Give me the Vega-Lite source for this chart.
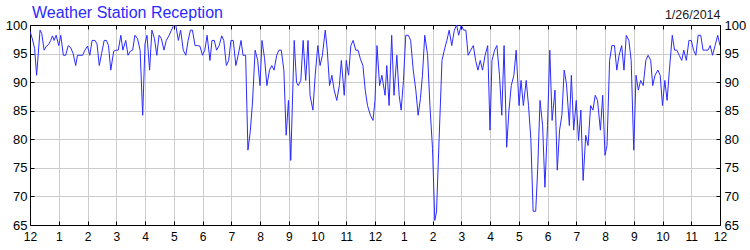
{
  "$schema": "https://vega.github.io/schema/vega-lite/v6.json",
  "width": 690,
  "height": 200,
  "autosize": "none",
  "padding": {"left": 30, "top": 25, "right": 30, "bottom": 25},
  "background": "white",
  "config": {"view": {"stroke": "black", "strokeWidth": 1}, "font": "Liberation Sans"},
  "title": {"text": "Weather Station Reception", "anchor": "start", "frame": "group", "color": "#2b2bff", "fontSize": 16, "fontWeight": "normal", "font": "Liberation Sans", "offset": -12, "dx": 2},
  "data": {"values": [
    {"h":0.00,"v":98.9},{"h":0.08,"v":97.6},{"h":0.16,"v":95.9},{"h":0.23,"v":91.2},{"h":0.35,"v":99.1},{"h":0.41,"v":98.5},{"h":0.49,"v":95.6},{"h":0.57,"v":96.3},{"h":0.65,"v":96.6},{"h":0.72,"v":97.3},{"h":0.78,"v":98.1},{"h":0.84,"v":97.3},{"h":0.91,"v":98.2},{"h":1.00,"v":96.4},{"h":1.07,"v":98.2},{"h":1.16,"v":94.7},{"h":1.24,"v":94.7},{"h":1.33,"v":96.4},{"h":1.42,"v":96.0},{"h":1.50,"v":95.0},{"h":1.59,"v":92.9},{"h":1.65,"v":94.7},{"h":1.74,"v":94.7},{"h":1.83,"v":94.7},{"h":1.91,"v":95.6},{"h":2.00,"v":96.3},{"h":2.08,"v":94.7},{"h":2.16,"v":97.3},{"h":2.26,"v":97.3},{"h":2.33,"v":96.7},{"h":2.41,"v":92.9},{"h":2.49,"v":95.0},{"h":2.58,"v":97.3},{"h":2.66,"v":97.3},{"h":2.73,"v":96.4},{"h":2.81,"v":92.1},{"h":2.91,"v":95.4},{"h":2.99,"v":95.6},{"h":3.07,"v":95.6},{"h":3.16,"v":98.2},{"h":3.23,"v":95.6},{"h":3.33,"v":97.3},{"h":3.41,"v":94.7},{"h":3.49,"v":95.4},{"h":3.57,"v":95.6},{"h":3.65,"v":98.2},{"h":3.74,"v":97.6},{"h":3.83,"v":95.6},{"h":3.92,"v":84.2},
    {"h":4.00,"v":96.7},{"h":4.07,"v":98.2},{"h":4.16,"v":92.1},{"h":4.24,"v":99.1},{"h":4.33,"v":97.6},{"h":4.41,"v":94.7},{"h":4.49,"v":98.2},{"h":4.57,"v":97.6},{"h":4.66,"v":95.6},{"h":4.74,"v":97.3},{"h":4.84,"v":98.2},{"h":4.92,"v":99.1},{"h":5.00,"v":100},{"h":5.07,"v":100},{"h":5.16,"v":97.3},{"h":5.24,"v":99.1},{"h":5.33,"v":95.6},{"h":5.42,"v":94.7},{"h":5.50,"v":97.3},{"h":5.58,"v":99.1},{"h":5.65,"v":99.1},{"h":5.74,"v":96.4},{"h":5.83,"v":96.4},{"h":5.91,"v":96.3},{"h":6.00,"v":94.7},{"h":6.08,"v":95.6},{"h":6.16,"v":98.2},{"h":6.26,"v":93.8},{"h":6.33,"v":97.3},{"h":6.41,"v":97.3},{"h":6.49,"v":95.6},{"h":6.58,"v":96.4},{"h":6.67,"v":98.1},{"h":6.74,"v":97.3},{"h":6.83,"v":92.9},{"h":6.91,"v":93.8},{"h":6.99,"v":97.3},{"h":7.07,"v":97.3},{"h":7.16,"v":92.9},{"h":7.24,"v":94.7},{"h":7.34,"v":97.3},{"h":7.41,"v":94.7},{"h":7.50,"v":94.7},{"h":7.58,"v":78.1},{"h":7.66,"v":81.3},{"h":7.74,"v":86.5},{"h":7.83,"v":95.6},{"h":7.92,"v":93.8},
    {"h":8.00,"v":89.4},{"h":8.07,"v":97.3},{"h":8.16,"v":94.1},{"h":8.24,"v":89.4},{"h":8.33,"v":92.1},{"h":8.41,"v":92.9},{"h":8.49,"v":92.1},{"h":8.58,"v":94.7},{"h":8.66,"v":95.6},{"h":8.74,"v":95.6},{"h":8.83,"v":92.1},{"h":8.91,"v":80.7},{"h":8.99,"v":86.8},{"h":9.07,"v":76.3},{"h":9.19,"v":97.3},{"h":9.27,"v":90.0},{"h":9.33,"v":89.4},{"h":9.42,"v":90.3},{"h":9.50,"v":97.3},{"h":9.59,"v":90.3},{"h":9.67,"v":97.3},{"h":9.74,"v":87.7},{"h":9.84,"v":85.1},{"h":9.92,"v":91.2},{"h":10.01,"v":96.4},{"h":10.09,"v":92.9},{"h":10.17,"v":94.7},{"h":10.27,"v":99.1},{"h":10.34,"v":95.6},{"h":10.42,"v":89.4},{"h":10.50,"v":91.2},{"h":10.58,"v":88.6},{"h":10.67,"v":86.8},{"h":10.76,"v":89.4},{"h":10.83,"v":93.8},{"h":10.93,"v":87.7},{"h":11.00,"v":93.8},{"h":11.08,"v":91.2},{"h":11.16,"v":96.4},{"h":11.24,"v":97.3},{"h":11.33,"v":95.6},{"h":11.41,"v":95.6},{"h":11.49,"v":94.1},{"h":11.58,"v":92.9},{"h":11.66,"v":88.6},{"h":11.74,"v":85.9},{"h":11.84,"v":84.2},{"h":11.93,"v":83.3},
    {"h":12.00,"v":86.8},{"h":12.07,"v":96.4},{"h":12.16,"v":89.4},{"h":12.24,"v":91.2},{"h":12.35,"v":87.7},{"h":12.41,"v":92.9},{"h":12.49,"v":85.9},{"h":12.58,"v":98.2},{"h":12.66,"v":87.7},{"h":12.76,"v":94.7},{"h":12.84,"v":87.7},{"h":12.91,"v":85.1},{"h":12.99,"v":90.3},{"h":13.07,"v":98.2},{"h":13.16,"v":98.2},{"h":13.24,"v":97.3},{"h":13.33,"v":92.1},{"h":13.42,"v":88.6},{"h":13.50,"v":84.2},{"h":13.58,"v":87.1},{"h":13.65,"v":91.2},{"h":13.73,"v":98.2},{"h":13.83,"v":94.7},{"h":13.91,"v":85.9},{"h":14.00,"v":78.4},{"h":14.08,"v":65.8},{"h":14.14,"v":67.3},{"h":14.23,"v":80.1},{"h":14.33,"v":93.8},{"h":14.41,"v":95.6},{"h":14.50,"v":97.3},{"h":14.58,"v":99.1},{"h":14.67,"v":96.4},{"h":14.76,"v":99.1},{"h":14.84,"v":100},{"h":14.91,"v":98.2},{"h":15.00,"v":100},{"h":15.08,"v":99.1},{"h":15.16,"v":99.1},{"h":15.24,"v":94.7},{"h":15.33,"v":95.6},{"h":15.42,"v":96.4},{"h":15.50,"v":93.8},{"h":15.58,"v":92.1},{"h":15.66,"v":93.8},{"h":15.74,"v":92.1},{"h":15.83,"v":94.7},{"h":15.92,"v":96.4},
    {"h":16.00,"v":81.6},{"h":16.07,"v":93.8},{"h":16.16,"v":95.6},{"h":16.24,"v":96.4},{"h":16.33,"v":91.2},{"h":16.41,"v":84.2},{"h":16.49,"v":96.4},{"h":16.58,"v":78.6},{"h":16.66,"v":85.1},{"h":16.74,"v":89.4},{"h":16.83,"v":91.2},{"h":16.91,"v":95.6},{"h":17.01,"v":85.9},{"h":17.08,"v":90.3},{"h":17.16,"v":85.9},{"h":17.26,"v":90.3},{"h":17.34,"v":85.9},{"h":17.42,"v":80.1},{"h":17.50,"v":67.4},{"h":17.59,"v":67.4},{"h":17.66,"v":74.9},{"h":17.74,"v":86.8},{"h":17.83,"v":82.4},{"h":17.91,"v":71.6},{"h":18.00,"v":82.4},{"h":18.08,"v":95.6},{"h":18.16,"v":83.3},{"h":18.26,"v":88.6},{"h":18.34,"v":74.6},{"h":18.42,"v":81.6},{"h":18.50,"v":84.2},{"h":18.58,"v":92.1},{"h":18.66,"v":89.7},{"h":18.76,"v":82.4},{"h":18.83,"v":91.2},{"h":18.91,"v":81.6},{"h":19.00,"v":86.8},{"h":19.08,"v":79.8},{"h":19.16,"v":85.1},{"h":19.24,"v":72.8},{"h":19.33,"v":80.7},{"h":19.41,"v":78.9},{"h":19.50,"v":85.9},{"h":19.58,"v":85.1},{"h":19.66,"v":87.7},{"h":19.74,"v":86.8},{"h":19.84,"v":81.6},{"h":19.92,"v":87.7},
    {"h":20.00,"v":77.2},{"h":20.07,"v":78.9},{"h":20.16,"v":93.8},{"h":20.24,"v":96.4},{"h":20.33,"v":96.4},{"h":20.41,"v":92.1},{"h":20.49,"v":94.7},{"h":20.58,"v":96.4},{"h":20.66,"v":92.1},{"h":20.74,"v":98.2},{"h":20.83,"v":97.3},{"h":20.91,"v":93.8},{"h":21.00,"v":78.1},{"h":21.08,"v":91.2},{"h":21.16,"v":88.6},{"h":21.24,"v":90.3},{"h":21.33,"v":89.4},{"h":21.42,"v":93.8},{"h":21.50,"v":94.7},{"h":21.59,"v":93.8},{"h":21.66,"v":89.4},{"h":21.74,"v":91.2},{"h":21.84,"v":92.1},{"h":21.92,"v":91.2},{"h":22.00,"v":85.9},{"h":22.08,"v":90.3},{"h":22.16,"v":86.8},{"h":22.24,"v":92.1},{"h":22.34,"v":98.2},{"h":22.42,"v":95.6},{"h":22.50,"v":95.6},{"h":22.58,"v":94.7},{"h":22.67,"v":93.8},{"h":22.74,"v":95.6},{"h":22.83,"v":93.8},{"h":22.92,"v":97.3},{"h":23.00,"v":97.3},{"h":23.08,"v":95.6},{"h":23.16,"v":94.7},{"h":23.24,"v":98.2},{"h":23.33,"v":98.2},{"h":23.41,"v":95.6},{"h":23.50,"v":95.6},{"h":23.58,"v":95.6},{"h":23.66,"v":96.4},{"h":23.74,"v":94.7},{"h":23.83,"v":96.4},{"h":23.92,"v":98.2},{"h":24.00,"v":96.4}
  ]},
  "layer": [
    {
      "mark": {"type": "line", "color": "#2b2bff", "strokeWidth": 1, "clip": true},
      "encoding": {
        "x": {"field": "h", "type": "quantitative",
          "scale": {"domain": [0, 24], "nice": false, "zero": false},
          "axis": {"orient": "bottom", "title": null, "values": [0,1,2,3,4,5,6,7,8,9,10,11,12,13,14,15,16,17,18,19,20,21,22,23,24],
            "labelExpr": "datum.value % 12 == 0 ? '12' : '' + (datum.value % 12)",
            "grid": true, "gridColor": "#cccccc", "gridWidth": 1, "domainColor": "black", "tickColor": "black", "tickSize": -4,
            "labelColor": "black", "labelFontSize": 12, "labelFont": "Liberation Sans", "labelPadding": 10, "labelFlush": false, "labelOverlap": false}},
        "y": {"field": "v", "type": "quantitative",
          "scale": {"domain": [65, 100], "nice": false, "zero": false},
          "axis": {"orient": "left", "title": null, "values": [65,70,75,80,85,90,95,100],
            "grid": true, "gridColor": "#cccccc", "gridWidth": 1, "domainColor": "black", "tickColor": "black", "tickSize": -4,
            "labelColor": "black", "labelFontSize": 13, "labelFont": "Liberation Sans", "labelPadding": 7, "labelFlush": false, "labelOverlap": false}}
      }
    },
    {
      "mark": {"type": "line", "strokeOpacity": 0, "clip": true},
      "encoding": {
        "x": {"field": "h", "type": "quantitative",
          "scale": {"domain": [0, 24], "nice": false, "zero": false},
          "axis": {"orient": "top", "values": [0,1,2,3,4,5,6,7,8,9,10,11,12,13,14,15,16,17,18,19,20,21,22,23,24],
            "labels": false, "grid": false, "domainColor": "black", "tickColor": "black", "tickSize": -4,
            "title": "1/26/2014", "titleAnchor": "end", "titleFontWeight": "normal", "titleFontSize": 12.5, "titleFont": "Liberation Sans", "titleColor": "#1a1a1a", "titlePadding": 3}},
        "y": {"field": "v", "type": "quantitative",
          "scale": {"domain": [65, 100], "nice": false, "zero": false},
          "axis": {"orient": "right", "title": null, "values": [65,70,75,80,85,90,95,100],
            "grid": false, "domainColor": "black", "tickColor": "black", "tickSize": -4,
            "labelColor": "black", "labelFontSize": 13, "labelFont": "Liberation Sans", "labelPadding": 8, "labelFlush": false, "labelOverlap": false}}
      }
    }
  ],
  "resolve": {"axis": {"x": "independent", "y": "independent"}}
}
